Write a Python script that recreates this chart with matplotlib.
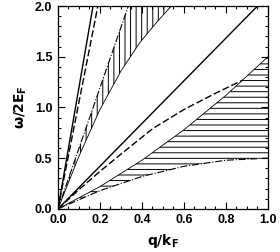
import matplotlib
matplotlib.use("Agg")
import matplotlib.pyplot as plt
import numpy as np
from matplotlib.ticker import MultipleLocator

plt.rcParams['font.family'] = ['Liberation Sans', 'DejaVu Sans']
plt.rcParams['font.weight'] = 'bold'
plt.rcParams['hatch.linewidth'] = 0.7

# steep plasmon lines (solid / dashed)
a_q = [0.0, 0.167]
a_w = [0.0, 2.0]
b_q = [0.0, 0.19]
b_w = [0.0, 2.0]

# vertical hatched continuum: left (dash-dot) and right edges
c_q = [0.0, 0.335]
c_w = [0.0, 2.0]
d_q = [0.0, 0.1, 0.2, 0.3, 0.39, 0.47, 0.54]
d_w = [0.0, 0.52, 0.98, 1.36, 1.64, 1.84, 2.0]

# lower solid line and dashed mode
s_q = [0.0, 0.95]
s_w = [0.0, 2.0]
e_q = [0.0, 0.1, 0.2, 0.3, 0.45, 0.6, 0.75, 0.88]
e_w = [0.0, 0.19, 0.37, 0.54, 0.79, 0.98, 1.14, 1.27]

# horizontal hatched continuum: upper and lower edges
f_q = [0.0, 0.2, 0.4, 0.6, 0.8, 1.0]
f_w = [0.0, 0.22, 0.48, 0.78, 1.12, 1.5]
g_q = [0.0, 0.2, 0.4, 0.6, 0.8, 1.0]
g_w = [0.0, 0.18, 0.32, 0.42, 0.48, 0.5]

fig = plt.figure(figsize=(2.8, 2.52), dpi=100)
ax = fig.add_axes([0.207, 0.171, 0.75, 0.805])

ax.fill(np.concatenate([c_q, d_q[::-1]]), np.concatenate([c_w, d_w[::-1]]),
        fill=False, hatch='|||', linewidth=0, color='k')
ax.fill(np.concatenate([f_q, g_q[::-1]]), np.concatenate([f_w, g_w[::-1]]),
        fill=False, hatch='---', linewidth=0, color='k')

ax.plot(a_q, a_w, 'k-', lw=1.0)
ax.plot(b_q, b_w, 'k--', lw=1.0, dashes=(5, 2))
ax.plot(c_q, c_w, 'k-.', lw=0.8)
ax.plot(d_q, d_w, 'k-', lw=0.6)
ax.plot(s_q, s_w, 'k-', lw=1.0)
ax.plot(e_q, e_w, 'k--', lw=1.0, dashes=(5, 2))
ax.plot(f_q, f_w, 'k-', lw=0.6)
ax.plot(g_q, g_w, 'k-.', lw=0.8)

ax.set_xlim(0, 1)
ax.set_ylim(0, 2)
ax.xaxis.set_major_locator(MultipleLocator(0.2))
ax.xaxis.set_minor_locator(MultipleLocator(0.05))
ax.yaxis.set_major_locator(MultipleLocator(0.5))
ax.yaxis.set_minor_locator(MultipleLocator(0.1))
ax.tick_params(which='both', direction='in', top=True, right=True, width=0.8)
ax.tick_params(which='major', length=5, labelsize=9, pad=4)
ax.tick_params(which='minor', length=2.5)
for sp in ax.spines.values():
    sp.set_linewidth(0.9)

ax.set_xlabel(r'$\mathbf{q/k_F}$', fontsize=10, labelpad=4)
ax.set_ylabel(r'$\mathbf{\omega/2E_F}$', fontsize=10, labelpad=4)

fig.savefig('out.png', dpi=100)
